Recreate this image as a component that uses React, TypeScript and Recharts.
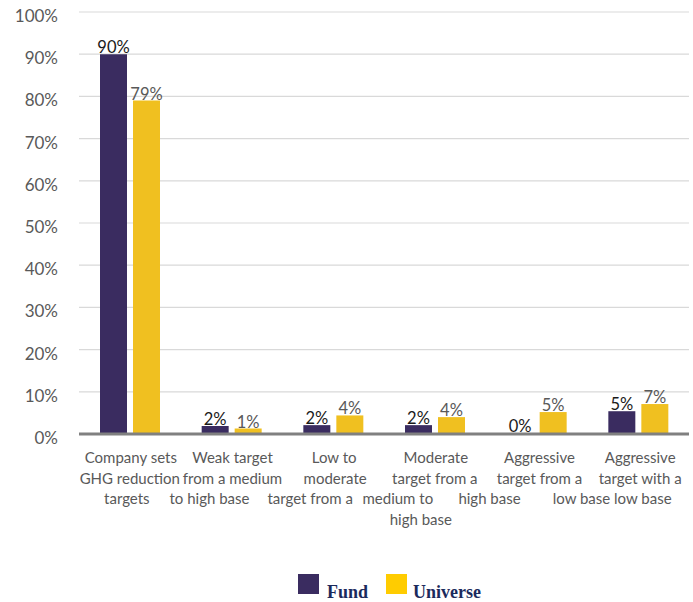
import { BarChart, Bar, XAxis, YAxis, CartesianGrid, LabelList } from 'recharts';

const categories = [
  'Company sets GHG reduction targets',
  'Weak target from a medium to high base',
  'Low to moderate target from a medium to high base',
  'Moderate target from a medium to high base',
  'Aggressive target from a high base',
  'Aggressive target with a low base',
];

// wrapped lines as they appear under each category
const tickLines = [
  ['Company sets', 'GHG reduction', 'targets'],
  ['Weak target', 'from a medium', 'to high base'],
  ['Low to', 'moderate', 'target from a'],
  ['Moderate', 'target from a', 'medium to', 'high base'],
  ['Aggressive', 'target from a', 'high base'],
  ['Aggressive', 'target with a', 'low base low base'],
];

const fundValues = [90, 1.9, 2.1, 2.1, 0.2, 5.4];
const universeValues = [79, 1.3, 4.4, 4, 5.2, 7.1];
const yTicks = [0, 10, 20, 30, 40, 50, 60, 70, 80, 90, 100];

// horizontal shift of each wrapped line, relative to the category centre
const lineShift = [
  [1, 0, -3],
  [1, 1, -22],
  [1, 2, -23],
  [1, 0, -37, -14],
  [3, 3, -47],
  [2, 2, -26],
];

const data = categories.map((name, i) => ({
  name,
  fund: fundValues[i],
  universe: universeValues[i],
}));

const FUND = '#3a2c60';
const UNIVERSE = '#f0c020';
const FONT = 'Lato, "Open Sans", sans-serif';

const XTick = (props: any) => {
  const { x, y, payload } = props;
  const lines = tickLines[payload.index] || [];
  return (
    <g>
      {lines.map((l, k) => (
        <text
          key={k}
          x={x + lineShift[payload.index][k]}
          y={y + 21 + k * 20.7}
          textAnchor="middle"
          fontSize={15}
          fill="#595959"
          fontFamily={FONT}
        >
          {l}
        </text>
      ))}
    </g>
  );
};

const YTick = (props: any) => {
  const { x, y, payload } = props;
  return (
    <text x={x} y={y + 10} textAnchor="end" fontSize={17} fill="#595959" fontFamily={FONT}>
      {payload.value}%
    </text>
  );
};

const pct = (v: any) => `${Math.round(Number(v))}%`;

export default function App() {
  return (
    <div style={{ position: 'absolute', left: 0, top: 0, width: 693, height: 602, background: '#fff' }}>
      <BarChart
        width={693}
        height={602}
        data={data}
        margin={{ top: 12, right: 4, left: 0, bottom: 0 }}
        barSize={27}
        barGap={6}
      >
        <CartesianGrid vertical={false} stroke="#d9d9d9" strokeWidth={1.2} />
        <XAxis
          dataKey="name"
          height={168}
          interval={0}
          tick={<XTick />}
          tickLine={false}
          axisLine={{ stroke: '#808080', strokeWidth: 3 }}
        />
        <YAxis
          width={79}
          domain={[0, 100]}
          ticks={yTicks}
          tick={<YTick />}
          tickMargin={15}
          axisLine={false}
          tickLine={false}
        />
        <Bar dataKey="fund" fill={FUND} isAnimationActive={false}>
          <LabelList
            dataKey="fund"
            position="top"
            offset={1}
            formatter={pct}
            style={{ fontSize: 16.5, fill: '#1a1a1a', fontFamily: FONT }}
          />
        </Bar>
        <Bar dataKey="universe" fill={UNIVERSE} isAnimationActive={false}>
          <LabelList
            dataKey="universe"
            position="top"
            offset={1}
            formatter={pct}
            style={{ fontSize: 16.5, fill: '#595959', fontFamily: FONT }}
          />
        </Bar>
      </BarChart>

      {/* legend */}
      <div
        style={{
          position: 'absolute',
          top: 574,
          left: 298,
          display: 'flex',
          alignItems: 'flex-end',
          fontFamily: '"Liberation Serif", "Times New Roman", serif',
          fontWeight: 'bold',
          fontSize: 18,
          color: '#1b2a5c',
          lineHeight: '20px',
        }}
      >
        <span style={{ width: 21, height: 20, background: FUND, display: 'inline-block' }} />
        <span style={{ marginLeft: 8, position: 'relative', top: 8 }}>Fund</span>
        <span style={{ width: 21, height: 20, background: '#ffcc00', display: 'inline-block', marginLeft: 18 }} />
        <span style={{ marginLeft: 6, position: 'relative', top: 8 }}>Universe</span>
      </div>
    </div>
  );
}
